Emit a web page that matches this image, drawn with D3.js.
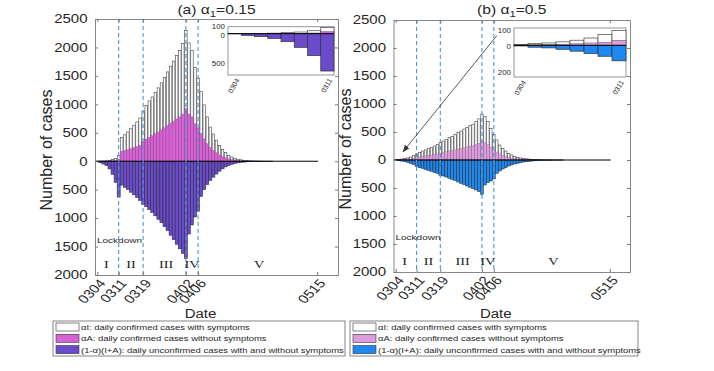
<!DOCTYPE html>
<html>
<head>
<meta charset="utf-8">
<script src="https://cdn.jsdelivr.net/npm/d3@7"></script>
<style>
  body { margin: 0; background: #fff; }
  text { font-family: "Liberation Sans", Arial, sans-serif; fill: #262626; }
</style>
</head>
<body>
<div id="chart"></div>
<script>
// x ticks (day index from 0304)
var tickDays = [0, 7, 15, 29, 33, 72];
var tickLabels = ["0304", "0311", "0319", "0402", "0406", "0515"];
var dashDays = [7, 15, 29, 33];
var phaseNames = ["I", "II", "III", "IV", "V"];
var phaseDays = [3, 11, 22.5, 31, 53];
var yTicks = [-2000, -1500, -1000, -500, 0, 500, 1000, 1500, 2000, 2500];

// panel (a) alpha1 = 0.15
var aI_a = [1, 2, 3, 6, 12, 20, 38, 70, 244, 275, 310, 348, 390, 432, 480, 530, 590, 640, 680, 725,
  775, 830, 880, 940, 1000, 1055, 1115, 1170, 1240, 1375, 1250, 1170, 990, 875, 740, 595, 470, 360, 290, 220,
  168, 126, 90, 63, 45, 31, 22, 15, 10, 7, 5, 4, 2, 2, 1, 1, 1, 1, 0, 0];
var aA_a = [1, 1, 2, 3, 5, 8, 12, 35, 176, 190, 205, 222, 240, 258, 280, 350, 390, 420, 450, 485,
  515, 550, 590, 630, 670, 705, 745, 780, 830, 925, 830, 780, 660, 585, 490, 395, 310, 240, 190, 150,
  112, 84, 60, 42, 30, 21, 14, 10, 7, 5, 3, 2, 2, 1, 1, 0, 0, 0, 0, 0];
var un_a = [2, 28, 50, 79, 135, 230, 370, 630, 420, 460, 500, 545, 590, 640, 690, 760, 800, 850, 900, 960,
  1020, 1080, 1150, 1220, 1300, 1380, 1460, 1540, 1620, 1710, 1280, 1120, 980, 880, 620, 500, 410, 340, 280, 225,
  175, 135, 100, 75, 55, 40, 30, 22, 16, 11, 8, 6, 4, 3, 2, 1, 1, 1, 0, 0];

// panel (b) alpha1 = 0.5
var aI_b = [3, 8, 11, 18, 25, 36, 56, 71, 82, 96, 108, 125, 136, 150, 164, 186, 203, 221, 239, 253,
  271, 293, 311, 332, 350, 368, 384, 411, 435, 485, 465, 411, 339, 275, 214, 161, 125, 97, 71, 53,
  39, 29, 22, 17, 13, 10, 7, 5, 4, 3, 2, 2, 1, 1, 1, 1, 1, 0, 0, 0];
var aA_b = [2, 4, 6, 7, 12, 17, 22, 37, 55, 64, 72, 83, 90, 100, 110, 124, 136, 148, 160, 170,
  181, 195, 207, 222, 233, 245, 256, 274, 300, 335, 310, 274, 226, 183, 143, 107, 83, 64, 48, 36,
  26, 19, 14, 11, 9, 6, 5, 4, 3, 2, 2, 1, 1, 1, 0, 0, 0, 0, 0, 0];
var un_b = [5, 14, 19, 29, 43, 60, 80, 113, 137, 149, 167, 185, 202, 220, 238, 274, 286, 304, 327, 345,
  369, 393, 417, 440, 464, 488, 512, 536, 565, 613, 446, 405, 375, 339, 238, 196, 161, 137, 107, 89,
  71, 60, 48, 36, 30, 24, 18, 14, 10, 8, 6, 4, 3, 2, 2, 1, 1, 0, 0, 0];

var legendLabels = [
  ["αI: daily confirmed cases with symptoms", "αA: daily confirmed cases without symptoms", "(1-α)(I+A):  daily unconfirmed cases with and without symptoms"],
  ["αI: daily confirmed cases with symptoms", "αA: daily confirmed cases without symptoms", "(1-α)(I+A): daily unconfirmed cases with and without symptoms"]
];

var SX = 1.25; // the picture is stretched sideways

var svg = d3.select("#chart").append("svg")
    .attr("width", 714)
    .attr("height", 371);

svg.append("defs").append("marker")
    .attr("id", "arr")
    .attr("viewBox", "0 0 10 10")
    .attr("refX", 9).attr("refY", 5)
    .attr("markerWidth", 9).attr("markerHeight", 9)
    .attr("orient", "auto")
    .append("path")
    .attr("d", "M0,1 L10,5 L0,9 z")
    .style("fill", "#333");

function label(g, x, y, s, size, anchor) {
    return g.append("text")
        .attr("transform", "translate(" + x + "," + y + ") scale(" + SX + ",1)")
        .attr("font-size", size)
        .attr("text-anchor", anchor || "start")
        .text(s);
}

var panels = [
    { name: "(a) α", sub: "1", rest: "=0.15", I: aI_a, A: aA_a, U: un_a,
      pink: "#d862d5", neg: "#6a4bcc", left: 95, right: 338, top: 19, bottom: 275,
      inset: { left: 228, right: 334, top: 26.7, bottom: 75, ymin: -697, ymax: 118, ticks: [100, 0, -500] },
      legend: { x: 53, w: 292 } },
    { name: "(b) α", sub: "1", rest: "=0.5", I: aI_b, A: aA_b, U: un_b,
      pink: "#de9cde", neg: "#1e88f0", left: 393.5, right: 630, top: 20, bottom: 272,
      inset: { left: 514, right: 626, top: 28, bottom: 77, ymin: -231, ymax: 126, ticks: [100, 0, -200] },
      legend: { x: 350, w: 288 }, arrow: true }
];

panels.forEach(function(p, pi) {
    var g = svg.append("g");
    var x = d3.scaleLinear().domain([-0.75, 78.8]).range([p.left, p.right]);
    var y = d3.scaleLinear().domain([-2000, 2500]).range([p.bottom, p.top]);
    var bw = x(1) - x(0);
    var days = p.I.map(function(d, i) { return i; });

    // confirmed with symptoms (white, on top of pink)
    g.append("g").selectAll("rect")
        .data(days).enter().append("rect")
        .attr("x", d => x(d) - bw * 0.4)
        .attr("width", bw * 0.8)
        .attr("y", d => y(p.A[d] + p.I[d]))
        .attr("height", d => y(0) - y(p.A[d] + p.I[d]))
        .style("fill", "#fff")
        .style("stroke", "#444")
        .style("stroke-width", 0.6);

    // confirmed without symptoms
    g.append("g").selectAll("rect")
        .data(days).enter().append("rect")
        .attr("x", d => x(d) - bw * 0.5)
        .attr("width", bw)
        .attr("y", d => y(p.A[d]))
        .attr("height", d => y(0) - y(p.A[d]))
        .style("fill", p.pink)
        .style("stroke", "rgba(0,0,0,0.3)")
        .style("stroke-width", 0.4);

    // unconfirmed (below zero)
    g.append("g").selectAll("rect")
        .data(days).enter().append("rect")
        .attr("x", d => x(d) - bw * 0.5)
        .attr("width", bw)
        .attr("y", y(0))
        .attr("height", d => y(-p.U[d]) - y(0))
        .style("fill", p.neg)
        .style("stroke", "#222")
        .style("stroke-width", 0.5);

    // zero line
    g.append("line")
        .attr("x1", x(-0.4)).attr("x2", x(72.3))
        .attr("y1", y(0)).attr("y2", y(0))
        .style("stroke", "#000").style("stroke-width", 1);

    // phase boundaries
    g.selectAll(".dash").data(dashDays).enter().append("line")
        .attr("x1", d => x(d)).attr("x2", d => x(d))
        .attr("y1", p.top).attr("y2", p.bottom)
        .style("stroke", "#3d9be0")
        .style("stroke-width", 1.1)
        .style("stroke-dasharray", "4,3");

    // axes box
    var yl = g.append("g").attr("transform", "translate(" + p.left + ",0)")
        .call(d3.axisLeft(y).tickValues(yTicks).tickSizeInner(-3).tickSizeOuter(0).tickPadding(6)
            .tickFormat(d => Math.abs(d)));
    var yr = g.append("g").attr("transform", "translate(" + p.right + ",0)")
        .call(d3.axisRight(y).tickValues(yTicks).tickSizeInner(-3).tickSizeOuter(0).tickFormat(""));
    var xb = g.append("g").attr("transform", "translate(0," + p.bottom + ")")
        .call(d3.axisBottom(x).tickValues(tickDays).tickSizeInner(-3).tickSizeOuter(0).tickFormat(""));
    var xt = g.append("g").attr("transform", "translate(0," + p.top + ")")
        .call(d3.axisTop(x).tickValues(tickDays).tickSizeInner(-3).tickSizeOuter(0).tickFormat(""));
    [yl, yr, xb, xt].forEach(function(a) {
        a.attr("color", "#7a7a7a");
        a.selectAll("path").style("stroke-width", 0.9);
    });
    yl.selectAll("text")
        .attr("font-size", 12)
        .attr("font-family", "Liberation Sans, Arial, sans-serif")
        .attr("transform", "scale(" + SX + ",1)")
        .style("fill", "#262626");

    // rotated date labels
    tickDays.forEach(function(d, i) {
        g.append("text")
            .attr("transform", "translate(" + (x(d) + 5) + "," + (p.bottom + 6) + ") scale(" + SX + ",1) rotate(-50)")
            .attr("font-size", 12)
            .attr("text-anchor", "end")
            .attr("dy", "0.35em")
            .text(tickLabels[i]);
    });

    // phases
    phaseNames.forEach(function(s, i) {
        g.append("text")
            .attr("transform", "translate(" + x(phaseDays[i]) + "," + (p.bottom - 7) + ") scale(1.3,1)")
            .attr("font-size", 11)
            .attr("text-anchor", "middle")
            .style("font-family", "Liberation Serif, Times New Roman, serif")
            .text(s);
    });
    label(g, p.left + 2, p.bottom - 32, "Lockdown", 8, "start");

    // title
    var t = g.append("text")
        .attr("transform", "translate(" + ((p.left + p.right) / 2) + ",14) scale(" + SX + ",1)")
        .attr("font-size", 12.5)
        .attr("text-anchor", "middle");
    t.append("tspan").text(p.name);
    t.append("tspan").attr("dy", 3).attr("font-size", 9).text(p.sub);
    t.append("tspan").attr("dy", -3).text(p.rest);

    // axis titles
    g.append("text")
        .attr("transform", "translate(" + (p.left - 43) + "," + ((p.top + p.bottom) / 2 + 3) + ") rotate(-90)")
        .attr("font-size", 16)
        .attr("text-anchor", "middle")
        .text("Number of cases");
    label(g, (p.left + p.right) / 2 - 16, 318, "Date", 12, "middle");

    // inset: first week
    var ins = p.inset;
    var ix = d3.scaleLinear().domain([-0.5, 7.5]).range([ins.left, ins.right]);
    var iy = d3.scaleLinear().domain([ins.ymin, ins.ymax]).range([ins.bottom, ins.top]);
    var ib = ix(1) - ix(0);
    var week = days.slice(0, 8);
    var ig = g.append("g");
    ig.append("rect")
        .attr("x", ins.left).attr("y", ins.top)
        .attr("width", ins.right - ins.left).attr("height", ins.bottom - ins.top)
        .style("fill", "#fff").style("stroke", "#8a8a8a").style("stroke-width", 0.9);
    ig.append("g").selectAll("rect").data(week).enter().append("rect")
        .attr("x", d => ix(d) - ib / 2).attr("width", ib)
        .attr("y", d => iy(p.A[d] + p.I[d]))
        .attr("height", d => iy(0) - iy(p.A[d] + p.I[d]))
        .style("fill", "#fff").style("stroke", "#444").style("stroke-width", 0.7);
    ig.append("g").selectAll("rect").data(week).enter().append("rect")
        .attr("x", d => ix(d) - ib / 2).attr("width", ib)
        .attr("y", d => iy(p.A[d]))
        .attr("height", d => iy(0) - iy(p.A[d]))
        .style("fill", p.pink).style("stroke", "#444").style("stroke-width", 0.4);
    ig.append("g").selectAll("rect").data(week).enter().append("rect")
        .attr("x", d => ix(d) - ib / 2).attr("width", ib)
        .attr("y", iy(0))
        .attr("height", d => iy(-p.U[d]) - iy(0))
        .style("fill", p.neg).style("stroke", "#333").style("stroke-width", 0.7);
    ig.append("line")
        .attr("x1", ins.left).attr("x2", ins.right)
        .attr("y1", iy(0)).attr("y2", iy(0))
        .style("stroke", "#000").style("stroke-width", 0.9);
    ins.ticks.forEach(function(v) {
        // the 100 and 0 labels sit very close in the small inset
        var off = v > 0 ? 1.5 : (v === 0 ? 4 : 2.5);
        label(ig, ins.left - 3, iy(v) + off, Math.abs(v), 6.3, "end");
    });
    [0, 7].forEach(function(d, i) {
        ig.append("text")
            .attr("transform", "translate(" + (ix(d) + 3) + "," + (ins.bottom + 4) + ") rotate(-60)")
            .attr("font-size", 7)
            .attr("text-anchor", "end")
            .attr("dy", "0.35em")
            .text(tickLabels[i]);
    });

    if (p.arrow) {
        g.append("line")
            .attr("x1", x(34)).attr("y1", y(2220))
            .attr("x2", x(2.5)).attr("y2", y(150))
            .style("stroke", "#333").style("stroke-width", 0.8)
            .attr("marker-end", "url(#arr)");
    }

    // legend
    var lg = g.append("g");
    lg.append("rect")
        .attr("x", p.legend.x).attr("y", 321)
        .attr("width", p.legend.w).attr("height", 35)
        .style("fill", "#fff").style("stroke", "#666").style("stroke-width", 0.8);
    var sw = ["#fff", p.pink, p.neg];
    legendLabels[pi].forEach(function(s, i) {
        var ry = 323 + i * 11.3;
        lg.append("rect")
            .attr("x", p.legend.x + 3).attr("y", ry)
            .attr("width", 23).attr("height", 8)
            .style("fill", sw[i]).style("stroke", "#333").style("stroke-width", 0.6);
        label(lg, p.legend.x + 28, ry + 7, s, 7.55, "start");
    });
});
</script>
</body>
</html>
